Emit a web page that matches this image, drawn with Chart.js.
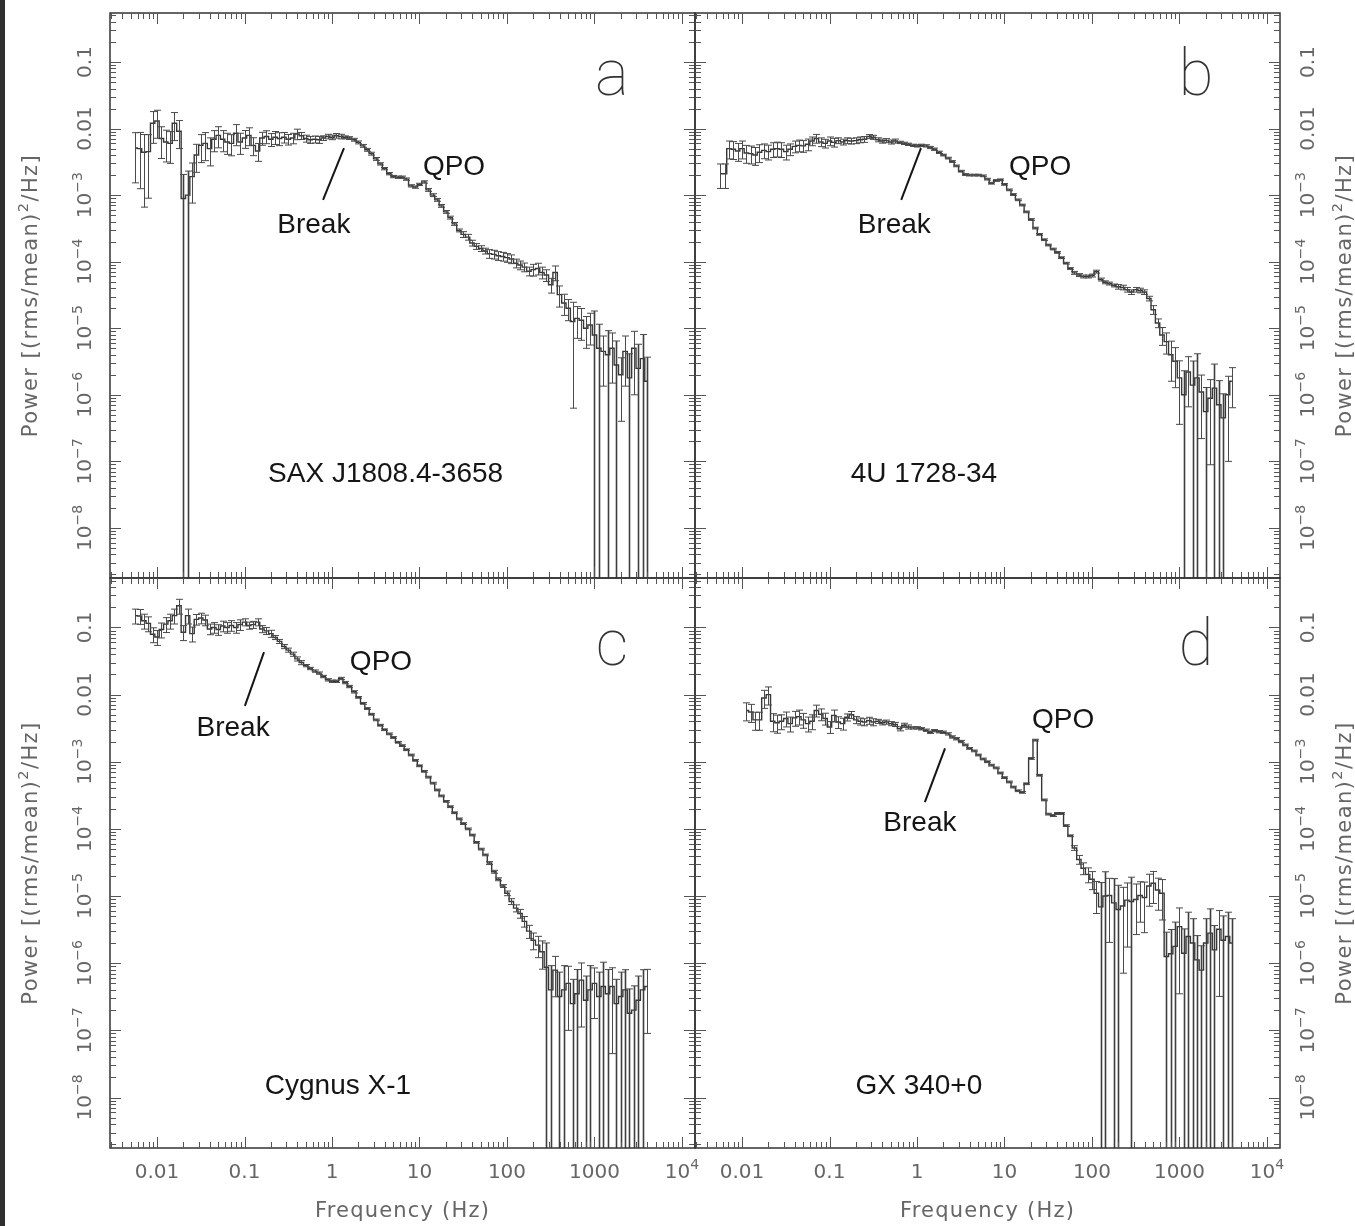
<!DOCTYPE html>
<html><head><meta charset="utf-8">
<script src="https://cdn.jsdelivr.net/npm/chart.js@4.4.1/dist/chart.umd.min.js"></script>
<style>
html,body{margin:0;padding:0;background:#fff;}
#wrap{position:relative;width:1355px;height:1226px;overflow:hidden;background:#fff;}
#wrap canvas{position:absolute;left:0;top:0;}
#edge{position:absolute;left:0;top:0;width:5px;height:1226px;background:#2e2e2e;}
</style></head>
<body><div id="wrap"><div id="edge"></div></div>
<script>
// ---------------- DATA ----------------
const freq = [0.00562,0.00631,0.00708,0.00794,0.00891,0.0100,0.0112,0.0126,0.0141,0.0158,
0.0178,0.0200,0.0224,0.0251,0.0282,0.0316,0.0355,0.0398,0.0447,0.0501,
0.0562,0.0631,0.0708,0.0794,0.0891,0.100,0.112,0.126,0.141,0.158,
0.178,0.200,0.224,0.251,0.282,0.316,0.355,0.398,0.447,0.501,
0.562,0.631,0.708,0.794,0.891,1.00,1.12,1.26,1.41,1.58,
1.78,2.00,2.24,2.51,2.82,3.16,3.55,3.98,4.47,5.01,
5.62,6.31,7.08,7.94,8.91,10.0,11.2,12.6,14.1,15.8,
17.8,20.0,22.4,25.1,28.2,31.6,35.5,39.8,44.7,50.1,
56.2,63.1,70.8,79.4,89.1,100,112,126,141,158,
178,200,224,251,282,316,355,398,447,501,
562,631,708,794,891,1000,1122,1259,1413,1585,
1778,1995,2239,2512,2818,3162,3548,3981];

const powerA = [5.1e-3,5.0e-3,4.4e-3,4.5e-3,1.2e-2,1.3e-2,7.1e-3,6.3e-3,6.0e-3,1.2e-2,
9.1e-3,8.9e-4,1.0e-3,1.9e-3,4.0e-3,5.6e-3,6.0e-3,5.0e-3,6.9e-3,7.9e-3,
6.9e-3,6.3e-3,6.0e-3,8.5e-3,6.3e-3,7.2e-3,7.9e-3,5.6e-3,4.6e-3,7.2e-3,
7.6e-3,6.9e-3,7.4e-3,7.1e-3,7.4e-3,6.9e-3,7.2e-3,8.3e-3,7.8e-3,7.1e-3,
6.8e-3,6.9e-3,6.8e-3,7.2e-3,7.6e-3,7.4e-3,7.8e-3,7.6e-3,7.4e-3,7.2e-3,
6.8e-3,6.2e-3,5.5e-3,4.8e-3,4.2e-3,3.5e-3,2.95e-3,2.5e-3,2.1e-3,1.9e-3,
1.86e-3,1.86e-3,1.74e-3,1.38e-3,1.32e-3,1.45e-3,1.58e-3,1.2e-3,1.0e-3,8.5e-4,
6.9e-4,5.6e-4,4.6e-4,3.7e-4,2.95e-4,2.57e-4,2.34e-4,1.91e-4,1.70e-4,1.58e-4,
1.45e-4,1.32e-4,1.29e-4,1.23e-4,1.20e-4,1.15e-4,1.10e-4,9.5e-5,8.9e-5,8.3e-5,
7.2e-5,7.6e-5,7.9e-5,6.9e-5,6.3e-5,4.5e-5,6.9e-5,3.2e-5,2.4e-5,2.0e-5,
1.26e-5,1.41e-5,1.32e-5,1.0e-5,1.12e-5,7.9e-6,5.0e-6,4.5e-6,4.0e-6,5.0e-6,
2.8e-6,2.0e-6,4.5e-6,1.8e-6,5.0e-6,2.5e-6,3.5e-6,1.6e-6];
const relErrA = [0.7,0.75,0.85,0.8,0.5,0.45,0.5,0.5,0.5,0.45,
0.45,1.3,1.3,0.6,0.45,0.45,0.45,0.45,0.35,0.35,
0.35,0.35,0.35,0.35,0.35,0.3,0.3,0.3,0.3,0.22,
0.22,0.22,0.22,0.22,0.18,0.18,0.18,0.18,0.12,0.12,
0.12,0.12,0.12,0.08,0.08,0.08,0.08,0.08,0.05,0.05,
0.05,0.05,0.05,0.05,0.05,0.05,0.04,0.04,0.04,0.04,
0.04,0.04,0.04,0.04,0.04,0.04,0.04,0.05,0.05,0.05,
0.05,0.05,0.05,0.05,0.05,0.1,0.1,0.1,0.1,0.1,
0.1,0.15,0.15,0.15,0.15,0.15,0.15,0.15,0.15,0.15,
0.15,0.2,0.2,0.2,0.2,0.25,0.25,0.35,0.35,0.35,
0.95,0.5,0.5,0.5,0.5,1.3,1.3,0.7,1.3,0.7,
1.3,0.8,0.7,1.3,0.8,1.3,1.3,1.3];

const powerB = [2.1e-3,2.1e-3,5.0e-3,4.9e-3,4.6e-3,5.0e-3,4.3e-3,4.2e-3,4.0e-3,4.4e-3,
4.7e-3,4.5e-3,4.9e-3,5.0e-3,4.9e-3,4.5e-3,4.9e-3,5.4e-3,5.6e-3,5.5e-3,
5.8e-3,6.5e-3,7.1e-3,6.3e-3,6.0e-3,6.5e-3,6.2e-3,6.6e-3,6.3e-3,6.6e-3,
6.5e-3,6.6e-3,6.8e-3,6.9e-3,7.6e-3,7.4e-3,6.8e-3,6.5e-3,6.6e-3,6.3e-3,
6.5e-3,6.2e-3,6.0e-3,5.8e-3,5.6e-3,5.5e-3,5.6e-3,5.5e-3,5.2e-3,4.9e-3,
4.4e-3,4.0e-3,3.6e-3,3.2e-3,2.75e-3,2.29e-3,2.04e-3,2.0e-3,2.0e-3,2.0e-3,
1.95e-3,1.74e-3,1.51e-3,1.66e-3,1.70e-3,1.45e-3,1.2e-3,1.02e-3,8.5e-4,7.1e-4,
5.6e-4,4.3e-4,3.2e-4,2.57e-4,2.14e-4,1.78e-4,1.55e-4,1.38e-4,1.15e-4,9.5e-5,
7.9e-5,6.8e-5,6.3e-5,6.0e-5,6.0e-5,6.2e-5,7.1e-5,5.4e-5,4.9e-5,4.7e-5,
4.4e-5,4.2e-5,4.1e-5,3.8e-5,3.5e-5,3.8e-5,3.7e-5,3.5e-5,2.8e-5,1.9e-5,
1.2e-5,7.9e-6,6.3e-6,4.0e-6,3.2e-6,1.8e-6,1.0e-6,2.2e-6,1.4e-6,1.8e-6,
1.1e-6,5.6e-7,8.9e-7,1.26e-6,7.1e-7,4.5e-7,1.0e-6,1.6e-6];
const relErrB = [0.4,0.4,0.3,0.3,0.3,0.3,0.3,0.3,0.3,0.3,
0.25,0.25,0.25,0.25,0.25,0.25,0.2,0.2,0.2,0.2,
0.2,0.15,0.15,0.15,0.15,0.15,0.15,0.1,0.1,0.1,
0.1,0.1,0.1,0.1,0.07,0.07,0.07,0.07,0.07,0.07,
0.07,0.04,0.04,0.04,0.04,0.04,0.04,0.04,0.04,0.04,
0.04,0.03,0.03,0.03,0.03,0.03,0.03,0.03,0.03,0.03,
0.03,0.03,0.03,0.03,0.03,0.03,0.03,0.03,0.03,0.03,
0.03,0.03,0.03,0.03,0.03,0.03,0.03,0.03,0.03,0.03,
0.03,0.05,0.05,0.05,0.05,0.05,0.05,0.05,0.05,0.05,
0.05,0.08,0.08,0.08,0.08,0.08,0.08,0.08,0.08,0.15,
0.15,0.3,0.35,0.6,0.6,0.8,1.3,0.7,1.3,1.3,
0.8,1.3,0.9,1.3,1.3,1.3,0.9,0.6];

const powerC = [1.5e-1,1.48e-1,1.26e-1,1.15e-1,7.9e-2,7.2e-2,9.3e-2,1.12e-1,1.26e-1,1.5e-1,
2.1e-1,8.5e-2,1.5e-1,8.1e-2,1.32e-1,1.38e-1,1.29e-1,9.5e-2,1.0e-1,9.3e-2,
1.05e-1,1.0e-1,1.07e-1,1.0e-1,1.10e-1,1.20e-1,1.07e-1,1.10e-1,1.20e-1,9.5e-2,
8.9e-2,8.1e-2,7.1e-2,6.2e-2,5.2e-2,4.6e-2,4.0e-2,3.4e-2,3.0e-2,2.7e-2,
2.45e-2,2.24e-2,2.09e-2,1.86e-2,1.66e-2,1.58e-2,1.58e-2,1.74e-2,1.51e-2,1.32e-2,
1.10e-2,9.1e-3,7.4e-3,6.2e-3,5.1e-3,4.2e-3,3.5e-3,3.0e-3,2.6e-3,2.3e-3,
1.95e-3,1.74e-3,1.51e-3,1.26e-3,1.05e-3,8.7e-4,7.2e-4,5.9e-4,4.8e-4,3.8e-4,
3.1e-4,2.57e-4,2.14e-4,1.74e-4,1.41e-4,1.20e-4,1.0e-4,8.1e-5,6.3e-5,5.0e-5,
4.1e-5,3.1e-5,2.3e-5,1.78e-5,1.41e-5,1.10e-5,8.3e-6,6.6e-6,5.5e-6,4.2e-6,
3.0e-6,2.2e-6,1.86e-6,1.48e-6,8.7e-7,4.0e-7,7.9e-7,3.2e-7,4.0e-7,5.0e-7,
2.5e-7,3.5e-7,5.6e-7,2.8e-7,4.0e-7,5.0e-7,3.2e-7,4.5e-7,3.5e-7,4.5e-7,
2.5e-7,3.2e-7,4.0e-7,1.8e-7,2.0e-7,2.8e-7,4.0e-7,4.5e-7];
const relErrC = [0.25,0.25,0.25,0.25,0.25,0.25,0.25,0.25,0.25,0.25,
0.25,0.25,0.25,0.25,0.18,0.18,0.18,0.18,0.18,0.18,
0.18,0.18,0.18,0.18,0.18,0.12,0.12,0.12,0.12,0.12,
0.12,0.12,0.07,0.07,0.07,0.07,0.07,0.07,0.07,0.04,
0.04,0.04,0.04,0.04,0.04,0.04,0.04,0.04,0.04,0.04,
0.04,0.03,0.03,0.03,0.03,0.03,0.03,0.03,0.03,0.03,
0.03,0.03,0.03,0.03,0.03,0.03,0.03,0.03,0.03,0.03,
0.03,0.03,0.03,0.03,0.03,0.03,0.03,0.03,0.03,0.03,
0.03,0.05,0.05,0.05,0.05,0.08,0.1,0.12,0.15,0.18,
0.22,0.28,0.35,0.45,1.3,1.3,0.6,1.3,1.3,0.8,
1.3,1.3,0.8,1.3,1.3,0.7,1.3,1.3,1.3,0.9,
1.3,1.3,1.0,1.3,1.3,1.3,1.0,0.8];

const powerD = [null,null,null,null,null,null,5.8e-3,5.5e-3,4.2e-3,4.2e-3,
8.9e-3,1.0e-2,4.0e-3,3.8e-3,4.0e-3,4.4e-3,3.7e-3,4.5e-3,4.7e-3,4.2e-3,
3.7e-3,4.0e-3,5.8e-3,5.1e-3,4.4e-3,3.3e-3,4.9e-3,3.9e-3,3.7e-3,4.6e-3,
5.0e-3,4.2e-3,4.0e-3,3.9e-3,4.1e-3,3.9e-3,4.0e-3,3.8e-3,3.9e-3,3.7e-3,
3.6e-3,3.1e-3,3.5e-3,3.3e-3,3.2e-3,3.2e-3,3.1e-3,2.95e-3,2.75e-3,2.9e-3,
2.8e-3,2.75e-3,2.6e-3,2.34e-3,2.2e-3,2.0e-3,1.78e-3,1.58e-3,1.45e-3,1.26e-3,
1.10e-3,1.0e-3,8.9e-4,8.1e-4,6.8e-4,5.8e-4,5.0e-4,4.2e-4,3.7e-4,3.5e-4,
4.7e-4,1.12e-3,2.1e-3,6.3e-4,2.7e-4,1.66e-4,1.58e-4,1.70e-4,1.70e-4,1.12e-4,
7.9e-5,5.2e-5,3.5e-5,2.6e-5,2.1e-5,1.78e-5,1.10e-5,6.9e-6,1.0e-5,1.02e-5,
7.9e-6,6.3e-6,7.1e-6,8.7e-6,8.3e-6,8.9e-6,1.02e-5,9.5e-6,1.41e-5,1.55e-5,
1.23e-5,1.10e-5,1.26e-6,1.38e-6,1.78e-6,3.5e-6,1.41e-6,2.5e-6,2.0e-6,1.12e-6,
7.9e-7,2.0e-6,2.8e-6,1.58e-6,3.2e-6,2.2e-6,2.5e-6,2.0e-6];
const relErrD = [0,0,0,0,0,0,0.3,0.3,0.3,0.3,
0.3,0.3,0.3,0.3,0.25,0.25,0.25,0.25,0.25,0.25,
0.25,0.25,0.2,0.2,0.2,0.2,0.2,0.2,0.2,0.12,
0.12,0.12,0.12,0.12,0.12,0.12,0.07,0.07,0.07,0.07,
0.07,0.07,0.07,0.07,0.04,0.04,0.04,0.04,0.04,0.04,
0.04,0.04,0.04,0.04,0.04,0.04,0.03,0.03,0.03,0.03,
0.03,0.03,0.03,0.03,0.03,0.03,0.03,0.03,0.03,0.03,
0.03,0.03,0.03,0.03,0.03,0.03,0.03,0.03,0.03,0.03,
0.03,0.08,0.15,0.2,0.25,0.3,0.5,1.3,1.3,0.8,
1.3,1.3,0.9,0.8,1.3,0.7,0.6,0.7,0.5,0.5,
0.5,0.6,1.3,1.3,1.3,0.9,1.3,1.3,1.3,1.3,
1.3,1.3,1.3,1.3,0.9,1.3,1.3,1.3];

const xTickValues = [0.01, 0.1, 1, 10, 100, 1000, 10000];
const xTickLabels = ['0.01', '0.1', '1', '10', '100', '1000', '10\u2074'];
const yTickValues = [0.1, 0.01, 1e-3, 1e-4, 1e-5, 1e-6, 1e-7, 1e-8];
const yTickLabels = ['0.1', '0.01', '10\u207B\u00B3', '10\u207B\u2074', '10\u207B\u2075', '10\u207B\u2076', '10\u207B\u2077', '10\u207B\u2078'];
const xRange = [0.0029, 14100];
const yRange = [1.77e-9, 0.545];
const xTitle = 'Frequency (Hz)';
const yTitle = 'Power [(rms/mean)\u00B2/Hz]';
const sourceNames = ['SAX J1808.4-3658', '4U 1728-34', 'Cygnus X-1', 'GX 340+0'];
const panelLetters = ['a', 'b', 'c', 'd'];
const breakText = 'Break';
const qpoText = 'QPO';

// ---------------- LAYOUT (positions/styles) ----------------
const W = 1355, H = 1226;
const panels = [
  { power: powerA, err: relErrA, area: {left:110, top:13, right:695, bottom:578}, ySide:'left', showX:false,
    breakAt:[0.62,3.5e-4], breakLine:[[1.37,5.1e-3],[0.79,8.5e-4]], qpoAt:[24.8,2.65e-3], nameAt:[4.1,6.5e-8], letterAt:[1585,0.032] },
  { power: powerB, err: relErrB, area: {left:695, top:13, right:1280, bottom:578}, ySide:'right', showX:false,
    breakAt:[0.55,3.5e-4], breakLine:[[1.11,5.1e-3],[0.66,8.5e-4]], qpoAt:[25.5,2.65e-3], nameAt:[1.2,6.5e-8], letterAt:[1545,0.032] },
  { power: powerC, err: relErrC, area: {left:110, top:578, right:695, bottom:1148}, ySide:'left', showX:true,
    breakAt:[0.074,3.2e-3], breakLine:[[0.167,0.043],[0.101,6.8e-3]], qpoAt:[3.63,0.0306], nameAt:[1.17,1.48e-8], letterAt:[1585,0.0275] },
  { power: powerD, err: relErrD, area: {left:695, top:578, right:1280, bottom:1148}, ySide:'right', showX:true,
    breakAt:[1.08,1.2e-4], breakLine:[[2.09,1.58e-3],[1.23,2.5e-4]], qpoAt:[46.7,4.2e-3], nameAt:[1.05,1.48e-8], letterAt:[1545,0.0275] }
];

const labelFamily = '"DejaVu Sans", sans-serif';
const tickColor = '#666';
const annFont = '28px "Liberation Sans", Arial, sans-serif';
const letterFont = '100 64px Roboto, "DejaVu Sans", sans-serif';

// draw text where superscript characters are rendered as smaller raised glyphs
const supMap = {'\u2070':'0','\u00B9':'1','\u00B2':'2','\u00B3':'3','\u2074':'4','\u2075':'5','\u2076':'6','\u2077':'7','\u2078':'8','\u2079':'9','\u207B':'\u2212'};
function drawRich(ctx, label, cx, baseY, size, spacing) {
  const segs = [];
  for (const ch of label) {
    const sup = ch in supMap;
    const c = sup ? supMap[ch] : ch;
    const last = segs[segs.length - 1];
    if (last && last.sup === sup) last.t += c; else segs.push({t: c, sup});
  }
  const supSize = size * 0.7;
  ctx.letterSpacing = (spacing || 0) + 'px';
  let total = 0;
  segs.forEach(s => { ctx.font = (s.sup ? supSize : size) + 'px ' + labelFamily; s.w = ctx.measureText(s.t).width; total += s.w; });
  let xx = cx - total / 2;
  ctx.textAlign = 'left'; ctx.textBaseline = 'alphabetic';
  segs.forEach(s => {
    ctx.font = (s.sup ? supSize : size) + 'px ' + labelFamily;
    ctx.fillText(s.t, xx, baseY - (s.sup ? size * 0.45 : 0));
    xx += s.w;
  });
  ctx.letterSpacing = '0px';
}

function decoPlugin(p, idx) {
  return {
    id: 'deco' + idx,
    afterDatasetsDraw(chart) {
      const {ctx, chartArea: ca, scales: {x, y}} = chart;
      ctx.save();
      ctx.beginPath(); ctx.rect(ca.left, ca.top, ca.right - ca.left, ca.bottom - ca.top); ctx.clip();
      freq.forEach((f, i) => {
        const v = p.power[i]; if (v == null) return;
        const r = p.err[i];
        const px = Math.round(x.getPixelForValue(f)) + 0.5;
        const hi = v * (1 + r), lo = v * (1 - r);
        const yHi = y.getPixelForValue(hi);
        const yLo = lo > 0 ? y.getPixelForValue(lo) : ca.bottom + 5;
        ctx.strokeStyle = lo > 0 ? '#4a4a4a' : '#3e3e3e';
        ctx.lineWidth = lo > 0 ? 1 : 1.6;
        ctx.beginPath();
        ctx.moveTo(px, yHi); ctx.lineTo(px, yLo);
        ctx.stroke();
        ctx.lineWidth = 1; ctx.strokeStyle = '#4a4a4a';
        ctx.beginPath();
        ctx.moveTo(px - 3.5, yHi); ctx.lineTo(px + 3.5, yHi);
        if (lo > 0) { ctx.moveTo(px - 3.5, yLo); ctx.lineTo(px + 3.5, yLo); }
        ctx.stroke();
      });
      ctx.restore();
    },
    afterDraw(chart) {
      const {ctx, chartArea: ca, scales: {x, y}} = chart;
      ctx.save();
      // frame
      ctx.strokeStyle = '#333'; ctx.lineWidth = 1.5;
      ctx.strokeRect(ca.left, ca.top, ca.right - ca.left, ca.bottom - ca.top);
      // ticks (inward, on all four sides)
      ctx.strokeStyle = '#555'; ctx.lineWidth = 1;
      ctx.beginPath();
      for (let e = -3; e <= 4; e++) {
        for (let m = 1; m <= 9; m++) {
          const v = m * Math.pow(10, e);
          if (v >= x.min && v <= x.max) {
            const px = Math.round(x.getPixelForValue(v)) + 0.5, len = m === 1 ? 11 : 6;
            ctx.moveTo(px, ca.bottom); ctx.lineTo(px, ca.bottom - len);
            ctx.moveTo(px, ca.top); ctx.lineTo(px, ca.top + len);
          }
        }
      }
      for (let e = -9; e <= 0; e++) {
        for (let m = 1; m <= 9; m++) {
          const v = m * Math.pow(10, e);
          if (v >= y.min && v <= y.max) {
            const py = Math.round(y.getPixelForValue(v)) + 0.5, len = m === 1 ? 11 : 6;
            ctx.moveTo(ca.left, py); ctx.lineTo(ca.left + len, py);
            ctx.moveTo(ca.right, py); ctx.lineTo(ca.right - len, py);
          }
        }
      }
      ctx.stroke();

      // tick labels and axis titles
      ctx.fillStyle = tickColor;
      if (p.showX) {
        xTickValues.forEach((v, i) => drawRich(ctx, xTickLabels[i], x.getPixelForValue(v), ca.bottom + 30, 20, 0));
        drawRich(ctx, xTitle, (ca.left + ca.right) / 2, ca.bottom + 69, 21, 1.2);
      }
      const lblX = p.ySide === 'left' ? 91 : 1314;
      const ttlX = p.ySide === 'left' ? 37 : 1351;
      yTickValues.forEach((v, i) => {
        const py = y.getPixelForValue(v);
        ctx.save(); ctx.translate(lblX, py); ctx.rotate(-Math.PI / 2);
        drawRich(ctx, yTickLabels[i], 0, 0, 20, 0); ctx.restore();
      });
      ctx.save(); ctx.translate(ttlX, (ca.top + ca.bottom) / 2); ctx.rotate(-Math.PI / 2);
      drawRich(ctx, yTitle, 0, 0, 21, 1.4); ctx.restore();

      // annotations
      ctx.fillStyle = '#151515'; ctx.font = annFont; ctx.textAlign = 'center'; ctx.textBaseline = 'middle';
      ctx.fillText(breakText, x.getPixelForValue(p.breakAt[0]), y.getPixelForValue(p.breakAt[1]));
      ctx.fillText(qpoText, x.getPixelForValue(p.qpoAt[0]), y.getPixelForValue(p.qpoAt[1]));
      ctx.fillText(sourceNames[idx], x.getPixelForValue(p.nameAt[0]), y.getPixelForValue(p.nameAt[1]));
      ctx.strokeStyle = '#151515'; ctx.lineWidth = 2;
      ctx.beginPath();
      ctx.moveTo(x.getPixelForValue(p.breakLine[0][0]), y.getPixelForValue(p.breakLine[0][1]));
      ctx.lineTo(x.getPixelForValue(p.breakLine[1][0]), y.getPixelForValue(p.breakLine[1][1]));
      ctx.stroke();
      // panel letter
      ctx.fillStyle = '#333'; ctx.font = letterFont; ctx.textAlign = 'center'; ctx.textBaseline = 'alphabetic';
      ctx.fillText(panelLetters[idx], x.getPixelForValue(p.letterAt[0]), y.getPixelForValue(p.letterAt[1]));
      ctx.restore();
    }
  };
}

const wrap = document.getElementById('wrap');
panels.forEach((p, idx) => {
  const cv = document.createElement('canvas');
  cv.width = W; cv.height = H; cv.style.width = W + 'px'; cv.style.height = H + 'px';
  wrap.appendChild(cv);
  const pts = [];
  freq.forEach((f, i) => { if (p.power[i] != null) pts.push({x: f, y: p.power[i]}); });
  const a = p.area;
  new Chart(cv, {
    type: 'line',
    data: { datasets: [{ data: pts, stepped: 'middle', borderColor: '#363636', borderWidth: 1.4,
      pointRadius: 0, fill: false, tension: 0 }] },
    options: {
      responsive: false, animation: false, devicePixelRatio: 1, events: [],
      layout: { padding: { left: a.left, top: a.top, right: W - a.right, bottom: H - a.bottom } },
      scales: {
        x: { type: 'logarithmic', min: xRange[0], max: xRange[1], display: false },
        y: { type: 'logarithmic', min: yRange[0], max: yRange[1], display: false }
      },
      plugins: { legend: { display: false }, tooltip: { enabled: false } }
    },
    plugins: [decoPlugin(p, idx)]
  });
});
</script>
</body></html>
